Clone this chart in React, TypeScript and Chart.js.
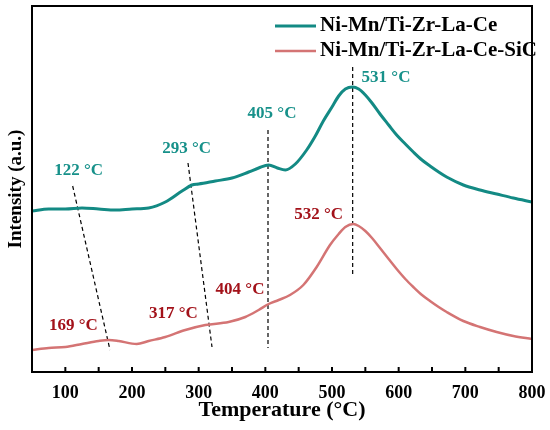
import { useEffect, useRef } from 'react';
import Chart from 'chart.js/auto';

// Ni-Mn/Ti-Zr-La-Ce
const tempA = [50, 75, 100, 125, 150, 175, 200, 225, 250, 275, 290, 300, 325, 350, 375, 390, 405, 418, 430, 445, 462, 475, 487, 500, 510, 520, 531, 540, 550, 560, 572, 585, 597, 610, 622, 635, 647, 660, 672, 697, 722, 747, 772, 800];
const intA = [161, 163, 163, 164, 163, 162, 163, 164, 170, 181, 187, 188, 191, 194, 200, 204, 207, 204, 202, 208, 222, 236, 251, 265, 276, 283, 285, 283, 277, 269, 258, 247, 237, 228, 220, 212, 206, 200, 195, 187, 182, 178, 174, 170];

// Ni-Mn/Ti-Zr-La-Ce-SiC
const tempB = [50, 75, 100, 125, 150, 165, 180, 207, 225, 250, 280, 310, 345, 370, 390, 405, 420, 437, 457, 477, 497, 510, 520, 532, 540, 550, 560, 572, 585, 597, 610, 622, 635, 647, 660, 672, 697, 722, 747, 772, 800];
const intB = [22, 24, 25, 28, 31, 32, 31, 28, 31, 35, 42, 47, 50, 55, 62, 68, 72, 77, 87, 105, 127, 138, 145, 148, 146, 141, 134, 124, 113, 103, 93, 85, 77, 71, 65, 60, 51, 45, 40, 36, 33];

// dashed guide lines (start, end)
const guideX = [[111, 167], [284, 320], [404, 404], [531, 531]];
const guideY = [[186, 22], [209, 25], [242, 24], [305, 98]];

// peak labels
const peakText = ['122 °C', '293 °C', '405 °C', '531 °C', '169 °C', '317 °C', '404 °C', '532 °C'];
const peakX = [120, 282, 410, 581, 112, 262, 362, 480];
const peakY = [201, 223, 258, 294, 46, 58, 82, 157];
const peakSeries = [0, 0, 0, 0, 1, 1, 1, 1];

const seriesNames = ['Ni-Mn/Ti-Zr-La-Ce', 'Ni-Mn/Ti-Zr-La-Ce-SiC'];
const lineColors = ['#138a84', '#d47474'];
const textColors = ['#17918a', '#a3121a'];

const serif = '"Liberation Serif", "Times New Roman", serif';

const decorPlugin = {
    id: 'decorPlugin',
    afterDraw: (chart: any) => {
        const ctx = chart.ctx;
        const area = chart.chartArea;
        const xs = chart.scales.x;
        const ys = chart.scales.y;
        ctx.save();

        // frame
        ctx.strokeStyle = '#000';
        ctx.lineWidth = 2;
        ctx.strokeRect(area.left, area.top, area.right - area.left, area.bottom - area.top);

        // inward ticks
        for (let v = 50; v <= 800; v += 50) {
            const px = xs.getPixelForValue(v);
            ctx.beginPath();
            ctx.moveTo(px, area.bottom);
            ctx.lineTo(px, area.bottom - 5);
            ctx.stroke();
        }

        // peak labels
        ctx.font = 'bold 17px ' + serif;
        ctx.textAlign = 'center';
        ctx.textBaseline = 'middle';
        peakText.forEach((t, i) => {
            ctx.fillStyle = textColors[peakSeries[i]];
            ctx.fillText(t, xs.getPixelForValue(peakX[i]), ys.getPixelForValue(peakY[i]));
        });

        // legend
        ctx.font = 'bold 21px ' + serif;
        ctx.textAlign = 'left';
        seriesNames.forEach((name, i) => {
            const y = area.top + 20 + i * 25;
            ctx.strokeStyle = lineColors[i];
            ctx.lineWidth = i === 0 ? 3 : 2.5;
            ctx.beginPath();
            ctx.moveTo(area.left + 243, y);
            ctx.lineTo(area.left + 284, y);
            ctx.stroke();
            ctx.fillStyle = '#000';
            ctx.fillText(name, area.left + 288, y);
        });
        ctx.restore();
    }
};

const App: React.FC = () => {
    const chartRef = useRef<HTMLCanvasElement>(null);

    useEffect(() => {
        document.body.style.margin = '0';
        if (!chartRef.current) return;
        const ctx = chartRef.current.getContext('2d');
        if (!ctx) return;

        const guides = guideX.map((gx, i) => ({
            label: 'guide' + i,
            data: gx.map((x, j) => ({ x, y: guideY[i][j] })),
            borderColor: '#000',
            borderWidth: 1.2,
            borderDash: [4, 3],
            pointRadius: 0,
            fill: false
        }));

        const chart = new Chart(ctx, {
            type: 'line',
            data: {
                datasets: [
                    {
                        label: seriesNames[0],
                        data: tempA.map((x, i) => ({ x, y: intA[i] })),
                        borderColor: lineColors[0],
                        borderWidth: 3,
                        pointRadius: 0,
                        cubicInterpolationMode: 'monotone',
                        fill: false
                    },
                    {
                        label: seriesNames[1],
                        data: tempB.map((x, i) => ({ x, y: intB[i] })),
                        borderColor: lineColors[1],
                        borderWidth: 2.5,
                        pointRadius: 0,
                        cubicInterpolationMode: 'monotone',
                        fill: false
                    },
                    ...guides
                ]
            },
            options: {
                animation: false,
                responsive: true,
                maintainAspectRatio: false,
                layout: { padding: { top: 6, right: 18, left: 0, bottom: 0 } },
                scales: {
                    x: {
                        type: 'linear',
                        min: 50,
                        max: 800,
                        grid: { display: false },
                        border: { display: false },
                        ticks: {
                            stepSize: 50,
                            autoSkip: false,
                            maxRotation: 0,
                            padding: 3,
                            color: '#000',
                            font: { family: serif, size: 18, weight: 'bold' },
                            callback: (value: any) => (value % 100 === 0 ? value : '')
                        },
                        title: {
                            display: true,
                            text: 'Temperature (°C)',
                            color: '#000',
                            font: { family: serif, size: 22, weight: 'bold' },
                            padding: { top: 0, bottom: 6 }
                        },
                        afterFit: (scale: any) => { scale.height = 58; }
                    },
                    y: {
                        min: 0,
                        max: 366,
                        grid: { display: false },
                        border: { display: false },
                        ticks: { display: false },
                        title: {
                            display: true,
                            text: 'Intensity (a.u.)',
                            color: '#000',
                            font: { family: serif, size: 19, weight: 'bold' },
                            padding: { top: 5, bottom: 0 }
                        },
                        afterFit: (scale: any) => { scale.width = 32; }
                    }
                },
                plugins: {
                    legend: { display: false },
                    tooltip: { enabled: false }
                }
            },
            plugins: [decorPlugin]
        });

        return () => {
            chart.destroy();
        };
    }, []);

    return (
        <div style={{ width: 550, height: 430, position: 'relative' }}>
            <canvas ref={chartRef}></canvas>
        </div>
    );
};

export default App;
